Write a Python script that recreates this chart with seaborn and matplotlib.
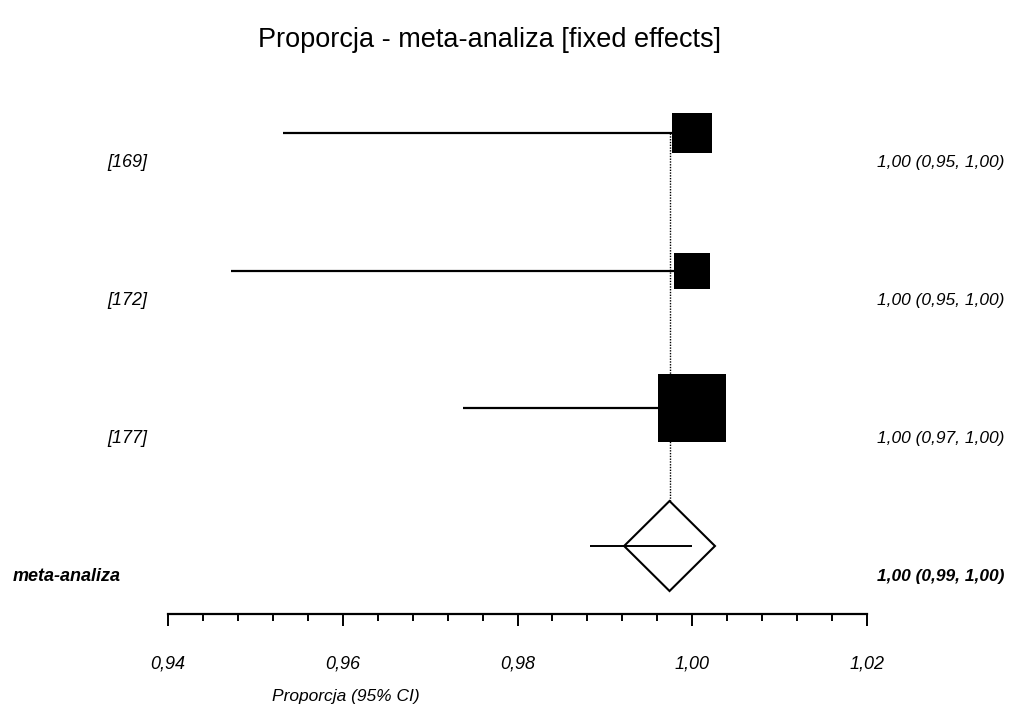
import numpy as np
import pandas as pd
import matplotlib
matplotlib.use("Agg")
import matplotlib.pyplot as plt
import matplotlib.transforms as mtransforms
from matplotlib.patches import Polygon
from matplotlib.ticker import FixedLocator, MultipleLocator, FuncFormatter
import seaborn as sns

# Study-level proportions with 95% confidence intervals
studies = ["[169]", "[172]", "[177]"]
estimates = [1.00, 1.00, 1.00]
ci_lower = [0.9532, 0.9472, 0.9738]
ci_upper = [1.00, 1.00, 1.00]
weights = [28.0, 25.0, 47.0]   # fixed-effects weights (%)

# Pooled result
pooled_label = "meta-analiza"
pooled_estimate = 0.9974
pooled_lower = 0.9883
pooled_upper = 1.00

x_ticks = [0.94, 0.96, 0.98, 1.00, 1.02]


def fmt(v):
    return f"{v:.2f}".replace(".", ",")


sns.set_theme(style="white")
plt.rcParams["font.family"] = ["Liberation Sans", "DejaVu Sans"]

W, H, DPI = 1017, 707, 100
fig = plt.figure(figsize=(W / DPI, H / DPI), dpi=DPI)
fig.patch.set_facecolor("white")

# Axes span 0.94..1.02 horizontally; rows are spaced along the y axis
ax = fig.add_axes([168 / W, (H - 614) / H, (867 - 168) / W, (614 - 100) / H])
ax.set_facecolor("white")
ax.set_xlim(x_ticks[0], x_ticks[-1])
ax.set_ylim(3.4939, -0.2397)

rows = np.arange(len(studies))
pooled_row = len(studies)

df = pd.DataFrame({
    "study": studies,
    "row": rows,
    "est": estimates,
    "lo": ci_lower,
    "hi": ci_upper,
    "w": weights,
})
# square side (points) grows with the study weight
df["area"] = (1.04 * df["w"]) ** 2

# confidence interval whiskers
ax.hlines(df["row"], df["lo"], df["hi"], color="black", lw=1.6, zorder=2)

# weighted squares
sns.scatterplot(data=df, x="est", y="row", size="area",
                sizes=(df["area"].min(), df["area"].max()),
                size_norm=(df["area"].min(), df["area"].max()),
                marker="s", color="black", edgecolor="black", linewidth=0,
                legend=False, ax=ax, zorder=3)

# pooled diamond
hw, hh = 0.0052, 0.327
diamond = Polygon([(pooled_estimate - hw, pooled_row),
                   (pooled_estimate, pooled_row - hh),
                   (pooled_estimate + hw, pooled_row),
                   (pooled_estimate, pooled_row + hh)],
                  closed=True, facecolor="none", edgecolor="black", lw=1.5, zorder=3)
ax.add_patch(diamond)
ax.hlines([pooled_row], [pooled_lower], [pooled_upper], color="black", lw=1.4, zorder=4)

# dotted reference line at the pooled estimate
ax.vlines([pooled_estimate], [0], [pooled_row - hh], color="black", lw=1.0,
          linestyles=(0, (1, 1)), zorder=1)

# axis styling
for side in ["top", "left", "right"]:
    ax.spines[side].set_visible(False)
ax.spines["bottom"].set_color("black")
ax.spines["bottom"].set_linewidth(1.6)
ax.set_yticks([])
ax.set_xlabel("")
ax.set_ylabel("")
ax.xaxis.set_major_locator(FixedLocator(x_ticks))
ax.xaxis.set_minor_locator(MultipleLocator(0.004))
ax.xaxis.set_major_formatter(FuncFormatter(lambda v, p: fmt(v)))
ax.tick_params(axis="x", which="major", direction="out", length=8.6, width=1.4,
               color="black", bottom=True, pad=21, labelsize=13, labelcolor="black")
ax.tick_params(axis="x", which="minor", direction="out", length=5, width=1.4,
               color="black", bottom=True)
for lab in ax.get_xticklabels():
    lab.set_fontstyle("italic")

# row labels below each row line
offset = mtransforms.ScaledTranslation(0, -30 / DPI, fig.dpi_scale_trans)
tr = mtransforms.blended_transform_factory(fig.transFigure, ax.transData) + offset
for r, name, e, lo, hi in zip(rows, studies, estimates, ci_lower, ci_upper):
    ax.text(127 / W, r, name, transform=tr, ha="center", va="center",
            fontsize=13, fontstyle="italic", color="black", clip_on=False)
    ax.text(1004 / W, r, f"{fmt(e)} ({fmt(lo)}, {fmt(hi)})", transform=tr,
            ha="right", va="center", fontsize=12.5, fontstyle="italic",
            color="black", clip_on=False)
ax.text(13 / W, pooled_row, pooled_label, transform=tr, ha="left", va="center",
        fontsize=13, fontstyle="italic", fontweight="bold", color="black", clip_on=False)
ax.text(1004 / W, pooled_row,
        f"{fmt(pooled_estimate)} ({fmt(pooled_lower)}, {fmt(pooled_upper)})",
        transform=tr, ha="right", va="center", fontsize=12.5, fontstyle="italic",
        fontweight="bold", color="black", clip_on=False)

fig.text(490 / W, 1 - 40 / H, "Proporcja - meta-analiza [fixed effects]",
         ha="center", va="center", fontsize=19.5, color="black")
fig.text(346 / W, 1 - 697 / H, "Proporcja (95% CI)", ha="center", va="center",
         fontsize=12.5, fontstyle="italic", color="black")

fig.savefig("out.png", dpi=DPI, facecolor="white")
